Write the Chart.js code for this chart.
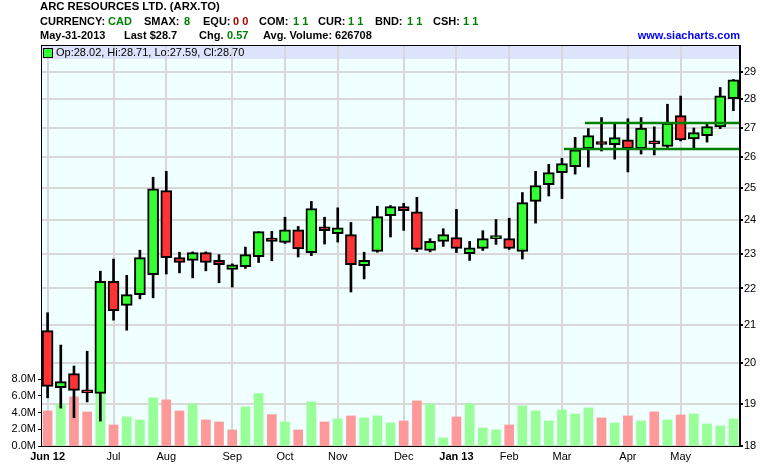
<!DOCTYPE html>
<html lang="en">
<head>
    <meta charset="UTF-8">
    <title>ARX.TO weekly</title>
    <script src="https://cdn.jsdelivr.net/npm/chart.js"></script>
    <style>
        body {
            margin: 0;
            background: #fff;
            font-family: 'Liberation Sans', Arial, sans-serif;
        }
        .wrap {
            position: relative;
            width: 780px;
            height: 466px;
        }
        .hd {
            position: absolute;
            font-size: 11px;
            font-weight: bold;
            line-height: 13px;
            white-space: pre;
            color: #000;
        }
        .g { color: #008000; }
        .r { color: #aa0000; }
        .site { color: #0000ee; }
        canvas { position: absolute; left: 0; top: 0; }
    </style>
</head>
<body>
<div class="wrap">
    <canvas id="chart" width="780" height="466"></canvas>
    <div class="hd" style="left:40px;top:0px;font-size:11.3px">ARC RESOURCES LTD. (ARX.TO)</div>
    <div class="hd" style="left:40px;top:15px">CURRENCY:</div>
    <div class="hd g" style="left:108px;top:15px">CAD</div>
    <div class="hd" style="left:144px;top:15px">SMAX:</div>
    <div class="hd g" style="left:184px;top:15px">8</div>
    <div class="hd" style="left:203px;top:15px">EQU:</div>
    <div class="hd r" style="left:233px;top:15px">0 0</div>
    <div class="hd" style="left:259px;top:15px">COM:</div>
    <div class="hd g" style="left:293px;top:15px">1 1</div>
    <div class="hd" style="left:318px;top:15px">CUR:</div>
    <div class="hd g" style="left:348px;top:15px">1 1</div>
    <div class="hd" style="left:375px;top:15px">BND:</div>
    <div class="hd g" style="left:407px;top:15px">1 1</div>
    <div class="hd" style="left:433px;top:15px">CSH:</div>
    <div class="hd g" style="left:463px;top:15px">1 1</div>
    <div class="hd" style="left:40px;top:29px">May-31-2013</div>
    <div class="hd" style="left:124px;top:29px">Last $28.7</div>
    <div class="hd" style="left:199px;top:29px">Chg.</div>
    <div class="hd g" style="left:227px;top:29px">0.57</div>
    <div class="hd" style="left:263px;top:29px">Avg. Volume: 626708</div>
    <div class="hd site" style="right:40px;top:29px">www.siacharts.com</div>
</div>

<script>
    // weekly bars, Jun 1 2012 .. May 31 2013
    const opens  = [20.85, 19.39, 19.74, 19.27, 19.25, 22.20, 21.53, 21.83, 22.39, 24.92,
                    22.88, 22.80, 23.03, 22.80, 22.54, 22.62, 22.91, 23.46, 23.33, 23.71,
                    23.03, 23.80, 23.59, 23.56, 22.65, 23.06, 24.14, 24.42, 24.26, 23.09,
                    23.36, 23.47, 23.00, 23.15, 23.44, 23.44, 23.06, 24.58, 25.11, 25.50,
                    25.69, 26.29, 26.45, 26.42, 26.59, 26.29, 26.46, 26.36, 27.42, 26.62,
                    26.73, 27.03, 28.02];
    const highs  = [21.33, 20.47, 19.93, 20.31, 22.49, 22.84, 22.37, 23.10, 25.35, 25.54,
                    23.04, 23.05, 23.05, 22.97, 22.70, 23.19, 23.65, 23.66, 24.09, 23.81,
                    24.58, 24.09, 24.38, 23.93, 23.04, 24.43, 24.45, 24.52, 24.71, 23.44,
                    23.74, 24.33, 23.36, 23.68, 24.02, 24.06, 24.86, 25.54, 25.77, 25.97,
                    26.67, 26.97, 27.35, 27.12, 27.31, 27.35, 27.03, 27.82, 28.11, 26.99,
                    27.12, 28.42, 28.71];
    const lows   = [19.14, 18.89, 18.66, 19.04, 18.58, 21.13, 20.86, 21.71, 21.74, 22.41,
                    22.44, 22.30, 22.50, 22.16, 22.04, 22.57, 22.74, 22.79, 23.30, 22.90,
                    22.94, 23.28, 23.34, 21.90, 22.27, 23.04, 23.49, 23.69, 23.06, 23.05,
                    23.21, 23.03, 22.80, 23.09, 23.27, 23.12, 22.84, 23.91, 24.75, 24.67,
                    25.45, 25.68, 26.21, 25.94, 25.52, 26.11, 26.08, 26.33, 26.55, 26.29,
                    26.51, 26.97, 27.59];
    const closes = [19.42, 19.54, 19.32, 19.26, 22.20, 21.39, 21.83, 22.88, 24.98, 22.88,
                    22.74, 23.03, 22.74, 22.68, 22.67, 22.97, 23.65, 23.36, 23.71, 23.14,
                    24.36, 23.68, 23.77, 22.68, 22.80, 24.11, 24.42, 24.29, 23.12, 23.36,
                    23.56, 23.15, 23.17, 23.44, 23.50, 23.15, 24.54, 25.08, 25.50, 25.79,
                    26.25, 26.73, 26.43, 26.66, 26.29, 26.99, 26.45, 27.16, 26.58, 26.83,
                    27.04, 28.12, 28.70];
    // volume in millions
    const volumes = [4.20, 5.00, 5.88, 4.08, 6.25, 2.52, 3.48, 3.12, 5.76, 5.52,
                     4.20, 5.04, 3.12, 2.88, 1.92, 4.68, 6.28, 3.76, 2.88, 1.92,
                     5.28, 2.88, 3.24, 3.60, 3.36, 3.60, 2.76, 3.00, 5.40, 5.04,
                     0.96, 3.48, 5.04, 2.16, 1.92, 2.52, 4.80, 4.20, 3.00, 4.32,
                     3.84, 4.56, 3.36, 2.76, 3.60, 3.00, 4.08, 3.12, 3.72, 3.84,
                     2.64, 2.40, 3.24];

    const monthLabels = ['Jun 12', 'Jul', 'Aug', 'Sep', 'Oct', 'Nov', 'Dec', 'Jan 13', 'Feb', 'Mar', 'Apr', 'May'];
    const monthWeek   = [0, 5, 9, 14, 18, 22, 27, 31, 35, 39, 44, 48];
    const priceTicks  = [18, 19, 20, 21, 22, 23, 24, 25, 26, 27, 28, 29];
    const volTicks    = [0, 2, 4, 6, 8];

    // horizontal support / resistance lines (price, first week)
    const levels     = [27.16, 26.28];
    const levelStart = [40.74, 39.15];

    const labels = opens.map((o, i) => {
        const k = monthWeek.indexOf(i);
        return k >= 0 ? monthLabels[k] : '';
    });

    const bodyColors = opens.map((o, i) => closes[i] >= o ? '#33ff33' : '#ff3333');
    const volColors = closes.map((c, i) => {
        const prev = i > 0 ? closes[i - 1] : opens[0];
        return c >= prev ? '#99ff99' : '#ff9999';
    });

    const bgPlugin = {
        id: 'bg',
        beforeDraw(chart) {
            const { ctx, chartArea: a } = chart;
            ctx.save();
            ctx.fillStyle = '#f0ffff';
            ctx.fillRect(a.left, a.top, a.right - a.left, a.bottom - a.top);
            ctx.fillStyle = '#dde3fb';
            ctx.fillRect(a.left, a.top, a.right - a.left, 14);
            ctx.restore();
        },
        afterDraw(chart) {
            const { ctx, chartArea: a } = chart;
            ctx.save();
            ctx.strokeStyle = '#000';
            ctx.lineWidth = 1;
            ctx.strokeRect(a.left + 0.5, a.top + 0.5, a.right - a.left - 1, a.bottom - a.top);
            // legend box
            const last = opens.length - 1;
            ctx.fillStyle = bodyColors[last];
            ctx.fillRect(a.left + 3, a.top + 4, 8, 8);
            ctx.strokeRect(a.left + 2.5, a.top + 3.5, 9, 9);
            ctx.fillStyle = '#000';
            ctx.font = '11px "Liberation Sans", Arial, sans-serif';
            ctx.textBaseline = 'middle';
            ctx.fillText('Op:' + opens[last].toFixed(2) + ', Hi:' + highs[last].toFixed(2) +
                ', Lo:' + lows[last].toFixed(2) + ', Cl:' + closes[last].toFixed(2), a.left + 15, a.top + 8);
            ctx.restore();
        }
    };

    Chart.defaults.font.family = '"Liberation Sans", Arial, sans-serif';
    Chart.defaults.font.size = 11;
    Chart.defaults.color = '#000';

    const ctx = document.getElementById('chart').getContext('2d');
    new Chart(ctx, {
        type: 'bar',
        data: {
            labels: labels,
            datasets: [
                {
                    type: 'line',
                    xAxisID: 'xl',
                    yAxisID: 'price',
                    data: [{ x: levelStart[0], y: levels[0] }, { x: 52.5, y: levels[0] }],
                    borderColor: '#008000',
                    borderWidth: 2.5,
                    pointRadius: 0,
                    order: 0
                },
                {
                    type: 'line',
                    xAxisID: 'xl',
                    yAxisID: 'price',
                    data: [{ x: levelStart[1], y: levels[1] }, { x: 52.5, y: levels[1] }],
                    borderColor: '#008000',
                    borderWidth: 2.5,
                    pointRadius: 0,
                    order: 0
                },
                {
                    // candle bodies
                    yAxisID: 'price',
                    data: opens.map((o, i) => [o, closes[i]]),
                    backgroundColor: bodyColors,
                    borderColor: '#000',
                    borderWidth: 2,
                    borderSkipped: false,
                    barThickness: 11,
                    minBarLength: 3,
                    grouped: false,
                    order: 1
                },
                {
                    // wicks
                    yAxisID: 'price',
                    data: lows.map((l, i) => [l, highs[i]]),
                    backgroundColor: '#000',
                    barThickness: 2,
                    grouped: false,
                    order: 2
                },
                {
                    yAxisID: 'vol',
                    data: volumes,
                    backgroundColor: volColors,
                    barThickness: 9,
                    grouped: false,
                    order: 3
                }
            ]
        },
        options: {
            responsive: false,
            animation: false,
            layout: { padding: { top: 45, left: 0, right: 0, bottom: 0 } },
            plugins: {
                legend: { display: false },
                tooltip: { enabled: false }
            },
            scales: {
                x: {
                    offset: true,
                    grid: {
                        offset: false,
                        color: c => labels[c.index] ? '#d8d8d8' : 'rgba(0,0,0,0)',
                        lineWidth: 2,
                        drawTicks: false
                    },
                    border: { color: '#000' },
                    ticks: {
                        autoSkip: false,
                        maxRotation: 0,
                        padding: 4,
                        font: c => ({ size: 11, weight: /\d/.test(c.tick.label) ? 'bold' : 'normal' })
                    },
                    afterFit: s => { s.height = 20; }
                },
                xl: {
                    type: 'linear',
                    display: false,
                    offset: false,
                    grid: { offset: false },
                    min: -0.5,
                    max: 52.5
                },
                price: {
                    type: 'logarithmic',
                    position: 'right',
                    min: 18,
                    max: 30,
                    afterBuildTicks: s => { s.ticks = priceTicks.map(v => ({ value: v })); },
                    ticks: { callback: v => String(v), padding: 1 },
                    grid: { color: '#d8d8d8', lineWidth: 2, tickColor: '#000', tickLength: 3 },
                    border: { color: '#000' },
                    afterFit: s => { s.width = 40; }
                },
                vol: {
                    position: 'left',
                    min: 0,
                    max: 48,
                    afterBuildTicks: s => { s.ticks = volTicks.map(v => ({ value: v })); },
                    ticks: { callback: v => v.toFixed(1) + 'M', padding: 2 },
                    grid: { drawOnChartArea: false, tickColor: '#000', tickLength: 3 },
                    border: { color: '#000' },
                    afterFit: s => { s.width = 41; }
                }
            }
        },
        plugins: [bgPlugin]
    });
</script>
</body>
</html>
